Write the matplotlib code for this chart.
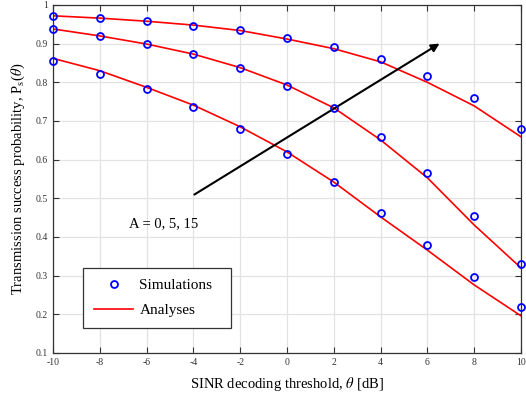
import numpy as np
import matplotlib.pyplot as plt

plt.rcParams['font.family'] = ['Liberation Serif', 'DejaVu Serif']
plt.rcParams['mathtext.fontset'] = 'stix'
plt.rcParams['axes.unicode_minus'] = False

theta = [-10, -8, -6, -4, -2, 0, 2, 4, 6, 8, 10]

# simulations (circles)
sim_a15 = [0.972, 0.966, 0.959, 0.946, 0.935, 0.915, 0.891, 0.860, 0.816, 0.760, 0.679]
sim_a5 = [0.938, 0.920, 0.899, 0.873, 0.837, 0.791, 0.734, 0.659, 0.566, 0.454, 0.330]
sim_a0 = [0.855, 0.822, 0.783, 0.736, 0.679, 0.615, 0.542, 0.462, 0.379, 0.297, 0.219]

# analyses (red lines)
ana_a15 = [0.972, 0.966, 0.958, 0.948, 0.934, 0.912, 0.887, 0.853, 0.800, 0.739, 0.659]
ana_a5 = [0.938, 0.920, 0.899, 0.873, 0.838, 0.793, 0.734, 0.651, 0.553, 0.431, 0.320]
ana_a0 = [0.862, 0.830, 0.787, 0.741, 0.685, 0.620, 0.542, 0.452, 0.366, 0.276, 0.196]

fig = plt.figure(figsize=(5.26, 3.93), dpi=100)
ax = fig.add_axes([0.1008, 0.1018, 0.8897, 0.8855])

for a in [ana_a15, ana_a5, ana_a0]:
    ax.plot(theta, a, color='red', lw=1.2, label='Analyses' if a is ana_a15 else None)
for s in [sim_a15, sim_a5, sim_a0]:
    ax.plot(theta, s, 'o', mfc='none', mec='blue', mew=1.3, ms=5,
            label='Simulations' if s is sim_a15 else None, clip_on=False, zorder=5)

ax.annotate('', xy=(6.62, 0.904), xytext=(-4.06, 0.506),
            arrowprops=dict(arrowstyle='-|>', color='black', lw=1.5, mutation_scale=12))
ax.text(-6.75, 0.434, 'A = 0, 5, 15', fontsize=10.5, va='center')

ax.set_xlim(-10, 10)
ax.set_ylim(0.1, 1)
ax.set_xticks(theta)
ax.set_yticks([0.1, 0.2, 0.3, 0.4, 0.5, 0.6, 0.7, 0.8, 0.9, 1])
ax.set_yticklabels(['0.1', '0.2', '0.3', '0.4', '0.5', '0.6', '0.7', '0.8', '0.9', '1'])
ax.tick_params(direction='in', top=True, right=True, labelsize=7, labelcolor='#333333',
               length=4, width=0.8, color='#333333')
ax.grid(True, color='#e3e3e3', lw=0.9)
ax.set_axisbelow(True)
for sp in ax.spines.values():
    sp.set_color('#333333')
    sp.set_linewidth(0.9)

ax.set_xlabel(r'SINR decoding threshold, $\theta$ [dB]', fontsize=10.5, labelpad=6)
ax.set_ylabel(r'Transmission success probability, P$_\mathrm{s}$($\theta$)', fontsize=10.5, labelpad=6)

h, l = ax.get_legend_handles_labels()
leg = ax.legend([h[1], h[0]], [l[1], l[0]], loc='lower left',
                bbox_to_anchor=(0.064, 0.072, 0.316, 0.17), mode='expand',
                fontsize=11, fancybox=False, edgecolor='#333333', framealpha=1,
                borderpad=0.7, labelspacing=0.75, handlelength=2.6, handletextpad=0.4,
                borderaxespad=0)
leg.get_frame().set_linewidth(0.9)

fig.savefig('out.png', dpi=100)
